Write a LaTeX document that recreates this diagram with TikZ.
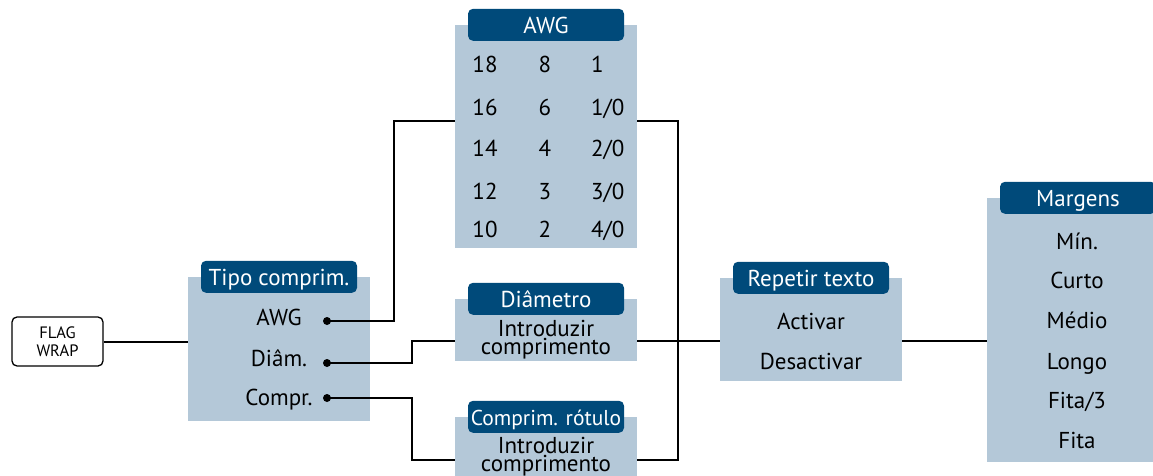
\documentclass[tikz,border=0pt]{standalone}
\usepackage{fontspec}
\setmainfont{PT Sans}
\usepackage{tikz}

\definecolor{panelblue}{HTML}{B4C8D8}
\definecolor{headblue}{HTML}{004A7A}

\tikzset{
    panel/.style={fill=panelblue, minimum width=182pt, inner sep=0pt},
    head/.style={fill=headblue, text=white, rounded corners=5pt, minimum width=156pt,
        minimum height=32pt, text height=17pt, text depth=0pt, inner sep=0pt,
        font=\fontsize{23}{18}\selectfont},
    item/.style={anchor=base, inner sep=0pt, font=\fontsize{23}{18}\selectfont},
    dot/.style={circle, fill=black, inner sep=0pt, minimum size=8pt},
    wire/.style={line width=2pt},
}

\begin{document}
\begin{tikzpicture}[x=1pt, y=-1pt]
    \useasboundingbox (0,0) rectangle (1153,476);
    \clip (0,0) rectangle (1153,476);

    \node[draw, rounded corners=5pt, line width=1.3pt, minimum width=91pt, minimum height=49pt,
        align=center, font=\fontsize{16.5}{18}\selectfont] at (57.5,341.5) (flag) {FLAG\\WRAP};

    % tipo comprim.
    \node[panel, minimum height=144pt] at (279,349) (tipo) {};
    \node[head] at (tipo.north) (tipoH) {Tipo comprim.};
    \node[item] at (279,325) (tAWG) {AWG};
    \node[item] at (279,366) (tDiam) {Diâm.};
    \node[item] at (279,405) (tComp) {Compr.};
    \node[dot] at (327,321) (dAWG) {};
    \node[dot] at (327,363) (dDiam) {};
    \node[dot] at (327,398) (dComp) {};

    % AWG
    \node[panel, minimum height=223pt] at (546,136.5) (awg) {};
    \node[head] at (awg.north) (awgH) {AWG};
    \node[item] at (485,73) (a18) {18};
    \node[item] at (485,116) (a16) {16};
    \node[item] at (485,157) (a14) {14};
    \node[item] at (485,199) (a12) {12};
    \node[item] at (485,237) (a10) {10};
    \node[item] at (545,73) (a8) {8};
    \node[item] at (545,116) (a6) {6};
    \node[item] at (545,157) (a4) {4};
    \node[item] at (545,199) (a3) {3};
    \node[item] at (545,237) (a2) {2};
    \node[item, anchor=base west] at (591,73) (a1) {1};
    \node[item, anchor=base west] at (591,116) (a1z) {1/0};
    \node[item, anchor=base west] at (591,157) (a2z) {2/0};
    \node[item, anchor=base west] at (591,199) (a3z) {3/0};
    \node[item, anchor=base west] at (591,237) (a4z) {4/0};

    % diametro / comprim. rotulo
    \node[panel, minimum height=62pt] at (546,330) (diam) {};
    \node[head] at (diam.north) (diamH) {Diâmetro};
    \node[item, anchor=center, align=center] at (546,340) (diamT) {Introduzir\\comprimento};
    \node[panel, minimum height=73pt] at (546,453.5) (rot) {};
    \node[head, font=\fontsize{21.5}{18}\selectfont] at (rot.north) (rotH) {Comprim. rótulo};
    \node[item, anchor=center, align=center] at (546,456.5) (rotT) {Introduzir\\comprimento};

    % repetir texto
    \node[panel, minimum height=103pt] at (811,329.5) (rep) {};
    \node[head] at (rep.north) (repH) {Repetir texto};
    \node[item] at (811,329) (rAct) {Activar};
    \node[item] at (811,369) (rDes) {Desactivar};

    % margens
    \node[panel, minimum height=264pt] at (1078,330) (marg) {};
    \node[head] at (marg.north) (margH) {Margens};
    \node[item] at (1077,249) (m1) {Mín.};
    \node[item] at (1077,288) (m2) {Curto};
    \node[item] at (1077,328) (m3) {Médio};
    \node[item] at (1077,369) (m4) {Longo};
    \node[item] at (1077,408) (m5) {Fita/3};
    \node[item] at (1077,448) (m6) {Fita};

    \coordinate (awgIn) at (awg.west |- 0,121);
    \coordinate (awgOut) at (awg.east |- 0,121);
    \coordinate (diamIn) at (diam.west |- 0,341);
    \coordinate (diamOut) at (diam.east |- 0,341);
    \coordinate (rotIn) at (rot.west |- 0,460);
    \coordinate (rotOut) at (rot.east |- 0,460);
    \coordinate (jn) at (678,341);

    \draw[wire] (flag.east) -- (flag.east -| tipo.west);
    \draw[wire] (dAWG.center) -- ++(67,0) |- (awgIn);
    \draw[wire] (dDiam.center) -- ++(85,0) |- (diamIn);
    \draw[wire] (dComp.center) -- ++(85,0) |- (rotIn);
    \draw[wire] (awgOut) -| (jn) |- (rotOut);
    \draw[wire] (diamOut) -- (jn) -- (jn -| rep.west);
    \draw[wire] (rep.east |- jn) -- (marg.west |- jn);
\end{tikzpicture}
\end{document}
